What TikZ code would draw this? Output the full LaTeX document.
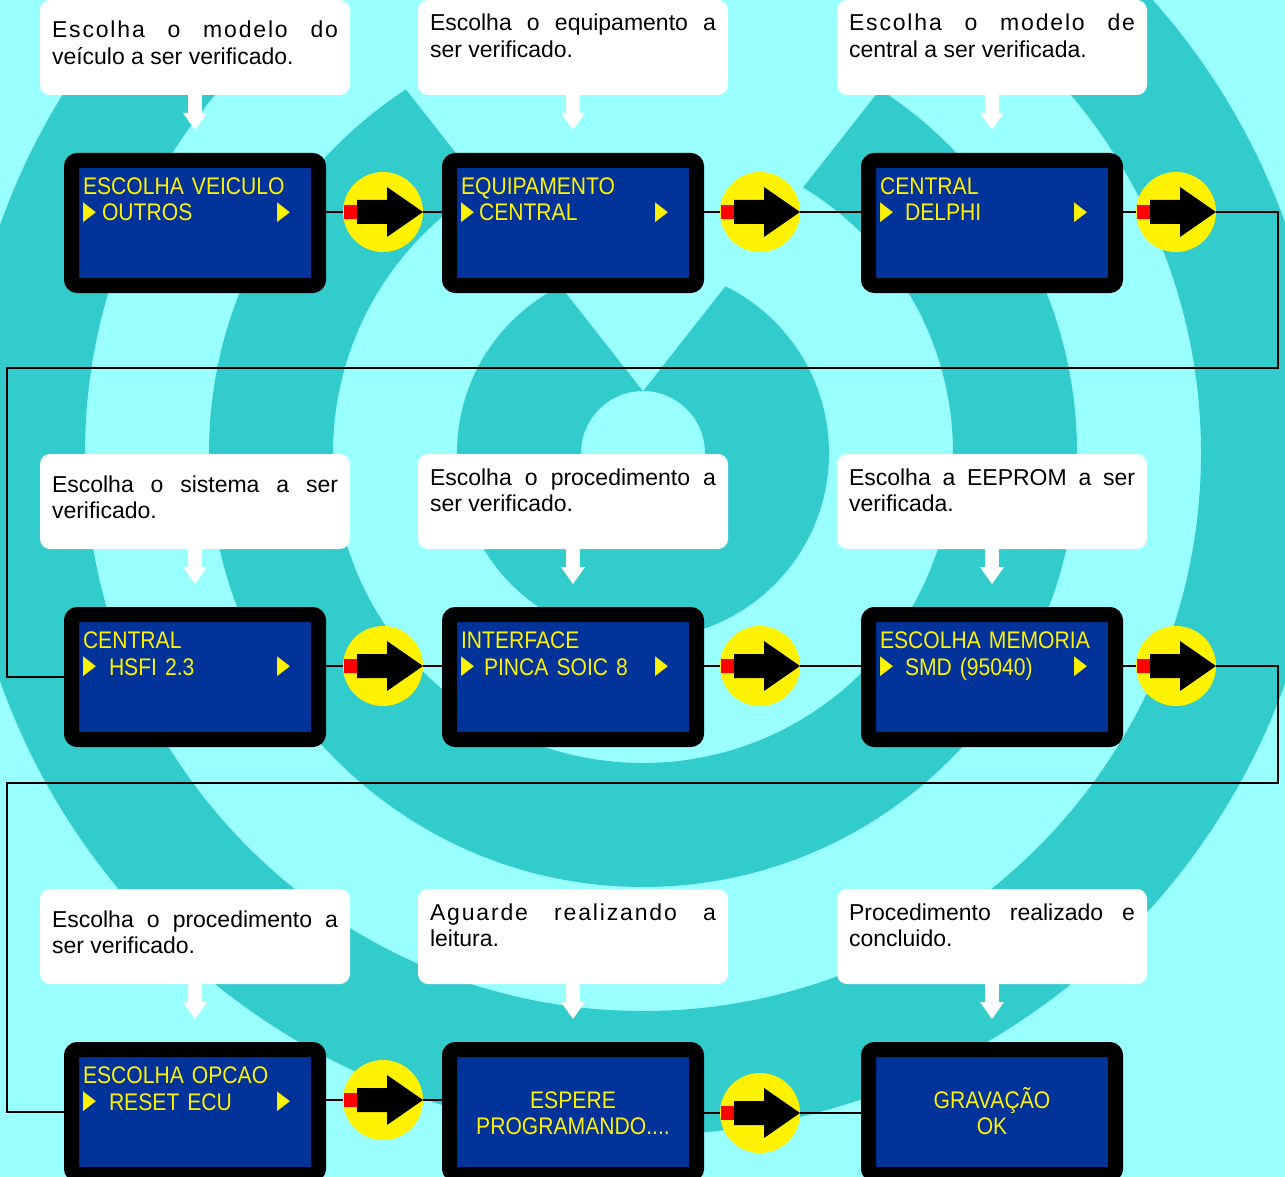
\documentclass[tikz,border=0pt]{standalone}
\usepackage{fontspec}
\usepackage{graphicx}
\setmainfont{Liberation Sans}
\newfontfamily\lcdfont[FakeStretch=0.88]{Liberation Sans}
\newfontfamily\symfont{DejaVu Sans}
\usetikzlibrary{arrows.meta,positioning}

\definecolor{skyfill}{HTML}{99FFFF}
\definecolor{ringfill}{HTML}{33CCCC}
\definecolor{lcdblue}{HTML}{003399}

\hyphenpenalty=10000
\tolerance=10000
\hbadness=10000

\newcommand{\tri}{\raisebox{-2pt}{\resizebox*{13pt}{20pt}{\raisebox{\depth}{\symfont ▶}}}}
\newcommand{\opt}[2]{\makebox[207pt][l]{\tri\hspace{#1}#2\hfill\tri}}
\newcommand{\spread}[1]{{\addfontfeature{LetterSpace=8}#1}}

\begin{document}
\begin{tikzpicture}[
  x=1pt, y=-1pt,
  lcd/.style={draw=black, line width=15pt, fill=lcdblue, rounded corners=6pt, outer sep=7.5pt,
    inner xsep=11.5pt, inner ysep=0pt, text width=224pt, text height=34pt, text depth=91pt,
    align=left, text=yellow, font=\lcdfont\fontsize{24}{26.5}\selectfont},
  lcdmid/.style={lcd, align=center, text height=58.5pt, text depth=66.5pt},
  note/.style={fill=white, rounded corners=10pt, outer sep=0pt, inner xsep=12pt, inner ysep=0pt,
    text width=286pt, text height=38pt, text depth=57pt, align=justify,
    font=\fontsize{23}{26.5}\selectfont},
  lift/.style={text height=31pt, text depth=64pt},
  go/.style={circle, fill=yellow, minimum size=80pt, inner sep=0pt, outer sep=0pt,
    path picture={
      \fill[red] ([shift={(-39,-7)}]path picture bounding box.center) rectangle ++(13,14);
      \fill[black] ([shift={(-26,-12)}]path picture bounding box.center) -- ++(30,0) -- ++(0,-13)
        -- ++(36,25) -- ++(-36,25) -- ++(0,-13) -- ++(-30,0) -- cycle;
    }},
  link/.style={line width=2.2pt},
  pointer/.style={white, line width=14pt, -{Triangle[width=24pt, length=17pt, line width=0pt]}, shorten >=23pt}
]
\useasboundingbox (0,0) rectangle (1285,1177);
\clip (0,0) rectangle (1285,1177);
\fill[skyfill] (0,0) rectangle (1285,1177);
\coordinate (hub) at (643,453);
\fill[ringfill, even odd rule] (hub) circle[radius=682] circle[radius=558] circle[radius=434]
  circle[radius=310] circle[radius=186] circle[radius=62];
\fill[skyfill] (643,391) -- (328,-10) -- (958,-10) -- cycle;

\node[lcd] (lcd1) at (195,223) {ESCOLHA VEICULO\\\opt{6pt}{OUTROS}};
\node[lcd, right=116pt of lcd1] (lcd2) {EQUIPAMENTO\\\opt{5pt}{CENTRAL}};
\node[lcd, right=157pt of lcd2] (lcd3) {CENTRAL\\\opt{12pt}{DELPHI}};
\node[lcd, below=314pt of lcd1] (lcd4) {CENTRAL\\\opt{13pt}{HSFI 2.3}};
\node[lcd, right=116pt of lcd4] (lcd5) {INTERFACE\\\opt{10pt}{PINCA SOIC 8}};
\node[lcd, right=157pt of lcd5] (lcd6) {ESCOLHA MEMORIA\\\opt{12pt}{SMD (95040)}};
\node[lcd, below=295pt of lcd4] (lcd7) {ESCOLHA OPCAO\\\opt{13pt}{RESET ECU}};
\node[lcdmid, right=116pt of lcd7] (lcd8) {ESPERE\\PROGRAMANDO....};
\node[lcdmid, right=157pt of lcd8] (lcd9) {GRAVAÇÃO\\OK};

\node[go, right=17pt of lcd1, yshift=11pt] (go1) {};
\node[go, right=16pt of lcd2, yshift=11pt] (go2) {};
\node[go, right=13pt of lcd3, yshift=11pt] (go3) {};
\node[go, right=17pt of lcd4, yshift=11pt] (go4) {};
\node[go, right=16pt of lcd5, yshift=11pt] (go5) {};
\node[go, right=13pt of lcd6, yshift=11pt] (go6) {};
\node[go, right=17pt of lcd7, yshift=12pt] (go7) {};
\node[go, right=16pt of lcd8, yshift=-1pt] (go8) {};

\node[note, above=58pt of lcd1] (note1) {\spread{Escolha o modelo do}\linebreak veículo a ser verificado.};
\node[note, lift, above=58pt of lcd2] (note2) {Escolha o equipamento a\linebreak ser verificado.};
\node[note, lift, above=58pt of lcd3] (note3) {\spread{Escolha o modelo de}\linebreak central a ser verificada.};
\node[note, above=58pt of lcd4] (note4) {Escolha o sistema a ser\linebreak verificado.};
\node[note, lift, above=58pt of lcd5] (note5) {Escolha o procedimento a\linebreak ser verificado.};
\node[note, lift, above=58pt of lcd6] (note6) {Escolha a EEPROM a ser\linebreak verificada.};
\node[note, above=58pt of lcd7] (note7) {Escolha o procedimento a\linebreak ser verificado.};
\node[note, lift, above=58pt of lcd8] (note8) {\spread{Aguarde realizando a}\linebreak leitura.};
\node[note, lift, above=58pt of lcd9] (note9) {Procedimento realizado e\linebreak concluido.};

\coordinate (turn1) at (1278,368);
\coordinate (turn2) at (7,368);
\coordinate (turn3) at (1278,783);
\coordinate (turn4) at (7,783);

\draw[link] (lcd1.east |- go1.west) -- (go1.west);
\draw[link] (go1.east) -- (lcd2.west |- go1.east);
\draw[link] (lcd2.east |- go2.west) -- (go2.west);
\draw[link] (go2.east) -- (lcd3.west |- go2.east);
\draw[link] (lcd3.east |- go3.west) -- (go3.west);
\draw[link] (go3.east) -| (turn1) -- (turn2) |- (lcd4.west);
\draw[link] (lcd4.east |- go4.west) -- (go4.west);
\draw[link] (go4.east) -- (lcd5.west |- go4.east);
\draw[link] (lcd5.east |- go5.west) -- (go5.west);
\draw[link] (go5.east) -- (lcd6.west |- go5.east);
\draw[link] (lcd6.east |- go6.west) -- (go6.west);
\draw[link] (go6.east) -| (turn3) -- (turn4) |- (lcd7.west);
\draw[link] (lcd7.east |- go7.west) -- (go7.west);
\draw[link] (go7.east) -- (lcd8.west |- go7.east);
\draw[link] (lcd8.east |- go8.west) -- (go8.west);
\draw[link] (go8.east) -- (lcd9.west |- go8.east);

\draw[pointer] (note1) -- (lcd1);
\draw[pointer] (note2) -- (lcd2);
\draw[pointer] (note3) -- (lcd3);
\draw[pointer] (note4) -- (lcd4);
\draw[pointer] (note5) -- (lcd5);
\draw[pointer] (note6) -- (lcd6);
\draw[pointer] (note7) -- (lcd7);
\draw[pointer] (note8) -- (lcd8);
\draw[pointer] (note9) -- (lcd9);
\end{tikzpicture}
\end{document}
